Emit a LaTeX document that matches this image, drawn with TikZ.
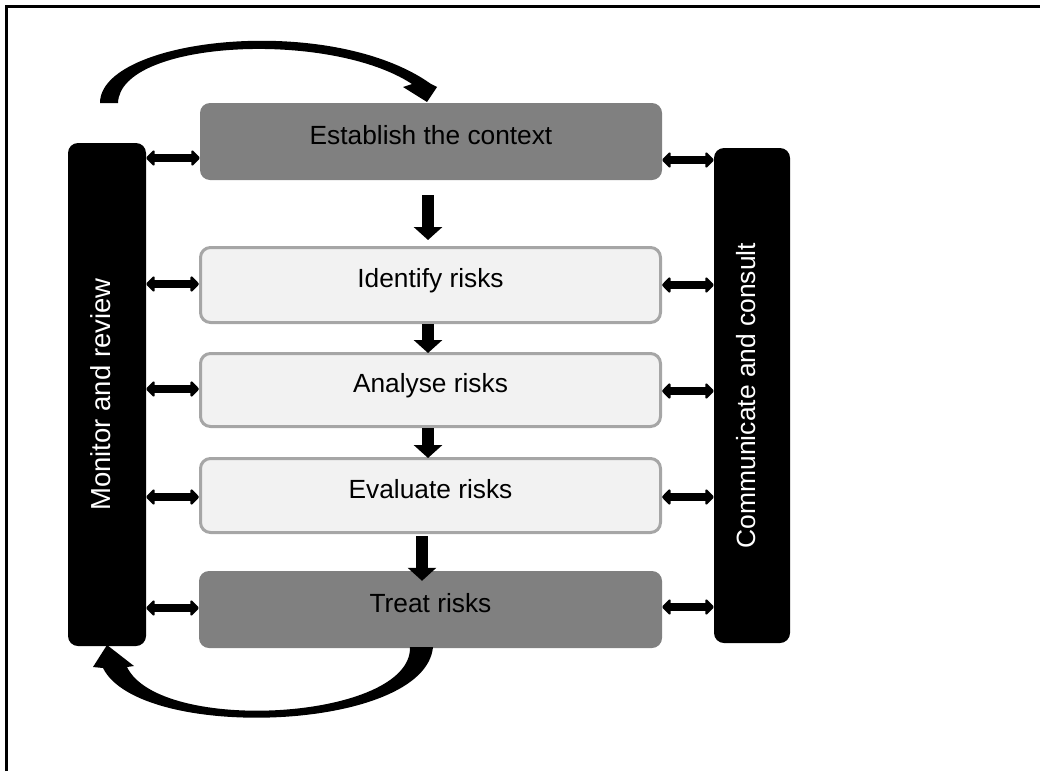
\documentclass[tikz,border=0pt]{standalone}
\usepackage{fontspec}
\setmainfont{Liberation Sans}
\usetikzlibrary{arrows.meta,calc}
\definecolor{stagegray}{HTML}{808080}
\definecolor{stepfill}{HTML}{F2F2F2}
\definecolor{stepline}{HTML}{A6A6A6}
\begin{document}
\begin{tikzpicture}[x=1pt,y=-1pt,
  stage/.style={fill=stagegray, rounded corners=10pt, minimum width=462pt,
    minimum height=77pt, inner sep=0pt, text height=5pt, text depth=0pt,
    font=\fontsize{26.3}{30}\selectfont},
  substep/.style={fill=stepfill, draw=stepline, line width=3pt, rounded corners=10pt,
    minimum width=460pt, inner sep=0pt, text height=5pt, text depth=0pt,
    font=\fontsize{26.3}{30}\selectfont},
  sidebar/.style={fill=black, text=white, rounded corners=10pt, rotate=90,
    inner sep=0pt, text height=6pt, text depth=0pt},
  flow/.style={line width=12pt, -{Triangle[length=13pt,width=28pt]}},
  linktip/.tip={Triangle[length=9pt,width=18pt,round,line width=2.5pt]},
  link/.style={line width=8pt, linktip-linktip},
]
\useasboundingbox (0,0) rectangle (1040,771);

% frame
\draw[line width=3pt] (6,771) -- (6,6) -- (1040,6);

% process stages
\node[stage] (ctx) at (431,141.5) {Establish the context};
\node[substep, minimum height=75pt] (idf) at (430.5,285) {Identify risks};
\node[substep, minimum height=73pt] (ana) at (430.5,390) {Analyse risks};
\node[substep, minimum height=74pt] (eva) at (430.5,495.5) {Evaluate risks};
\node[stage, minimum width=463pt] (trt) at (430.5,609.5) {Treat risks};

% side bars
\node[sidebar, minimum width=503pt, minimum height=78pt,
  font=\fontsize{27.5}{30}\selectfont] (mon) at (107,394.5) {Monitor and review};
\node[sidebar, minimum width=495pt, minimum height=76pt,
  font=\fontsize{26.4}{30}\selectfont] (com) at (752,395.5) {Communicate and consult};

% flow between stages
\draw[flow] ($(ctx.south)+(-3,15)$) -- ($(idf.north)+(-2.5,-6)$);
\draw[flow] ($(idf.south)+(-2.5,0)$) -- ($(ana.north)+(-2.5,1)$);
\draw[flow] ($(ana.south)+(-2.5,0)$) -- ($(eva.north)+(-2.5,1)$);
\draw[flow] ($(eva.south)+(-8.5,2)$) -- ($(trt.north)+(-8.5,10)$);

% links to the side bars
\draw[link] (mon.south |- 0,158) -- (ctx.west |- 0,158);
\draw[link] (mon.south |- 0,284) -- (idf.west |- 0,284);
\draw[link] (mon.south |- 0,389) -- (ana.west |- 0,389);
\draw[link] (mon.south |- 0,497) -- (eva.west |- 0,497);
\draw[link] (mon.south |- 0,608) -- (trt.west |- 0,608);
\draw[link] (ctx.east |- 0,160) -- (com.north |- 0,160);
\draw[link] (idf.east |- 0,285) -- (com.north |- 0,285);
\draw[link] (ana.east |- 0,391) -- (com.north |- 0,391);
\draw[link] (eva.east |- 0,497) -- (com.north |- 0,497);
\draw[link] (trt.east |- 0,607) -- (com.north |- 0,607);

% loop back over the top
\fill (100,103) .. controls (100,38) and (330,12) .. (431,84)
  -- (437,87) -- (427,102) -- (403,87) -- (412,84)
  .. controls (330,30) and (120,40) .. (118,103) -- cycle;

% loop back underneath
\fill (433,647) .. controls (425,732) and (140,742) .. (103,668)
  -- (93,667) -- (107,645) -- (134,666) -- (127,667)
  .. controls (160,735) and (412,720) .. (410,647) -- cycle;
\end{tikzpicture}
\end{document}
